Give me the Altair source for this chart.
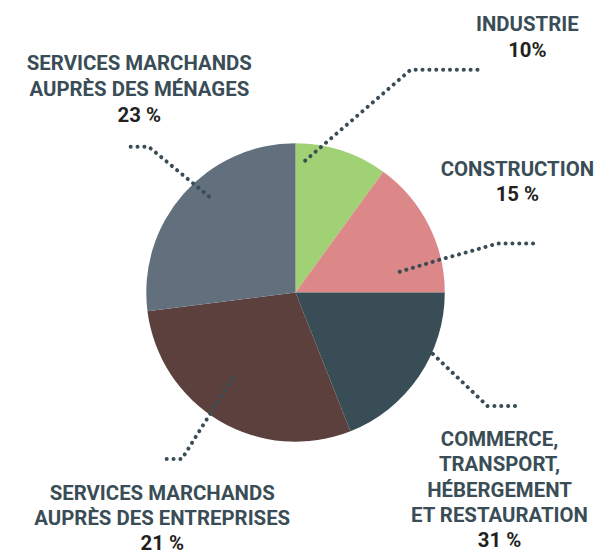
import altair as alt
import pandas as pd

# ---- data ----
secteurs = ["Industrie", "Construction", "Commerce", "Entreprises", "Ménages"]
valeurs = [10, 15, 19, 29, 27]          # slice sizes as drawn
couleurs = ["#a1d175", "#dc8788", "#384d55", "#5c403e", "#62707d"]

etiquettes = [
    ["INDUSTRIE"],
    ["CONSTRUCTION"],
    ["COMMERCE,", "TRANSPORT,", "HÉBERGEMENT", "ET RESTAURATION"],
    ["SERVICES MARCHANDS", "AUPRÈS DES ENTREPRISES"],
    ["SERVICES MARCHANDS", "AUPRÈS DES MÉNAGES"],
]
pourcentages = ["10%", "15 %", "31 %", "21 %", "23 %"]

# ---- layout (page pixels) ----
label_x = [530, 520, 502, 163, 140]
label_y0 = [30, 175, 447, 501.5, 69]
line_gap = [26, 26, 25.3, 25, 26]

leaders = [
    [(306.7, 160), (412.7, 68.7), (480, 68.7)],
    [(401.7, 271.7), (445, 258.7), (476.7, 250), (500, 243.3), (540, 243.3)],
    [(435, 354.3), (490, 406.7), (522.7, 406.7)],
    [(233.3, 379.3), (182.7, 460), (167.3, 460)],
    [(210, 196), (149.3, 146), (128.3, 146)],
]

W, H = 587, 540
M = 8
cx, cy, R = 297, 292.5, 150

pie_df = pd.DataFrame({"secteur": secteurs, "valeur": valeurs, "ordre": list(range(len(secteurs)))})

rows = []
for i, lines in enumerate(etiquettes):
    for j, t in enumerate(lines):
        rows.append({"x": label_x[i], "y": label_y0[i] + j * line_gap[i], "t": t, "k": "lab"})
    rows.append({"x": label_x[i], "y": label_y0[i] + len(lines) * line_gap[i], "t": pourcentages[i], "k": "pct"})
text_df = pd.DataFrame(rows)

lrows = []
for i, pts in enumerate(leaders):
    for j, (x, y) in enumerate(pts):
        lrows.append({"g": i, "s": j, "x": x, "y": y})
lead_df = pd.DataFrame(lrows)

xs = alt.Scale(domain=[M, M + W])
ys = alt.Scale(domain=[M + H, M])

pie = alt.Chart(pie_df).mark_arc(radius=R).encode(
    theta=alt.Theta("valeur:Q", stack=True),
    order=alt.Order("ordre:Q"),
    color=alt.Color("secteur:N", scale=alt.Scale(domain=secteurs, range=couleurs), legend=None),
    x=alt.value(cx - M),
    y=alt.value(cy - M),
)

lines = alt.Chart(lead_df).mark_line(
    strokeDash=[0.1, 6.8], strokeCap="round", strokeWidth=4, color="#3a4d56"
).encode(
    x=alt.X("x:Q", scale=xs, axis=None),
    y=alt.Y("y:Q", scale=ys, axis=None),
    detail="g:N",
    order="s:Q",
)

texts = alt.Chart(text_df).mark_text(
    font="Roboto", fontWeight="bold", fontSize=20.5, align="center", baseline="alphabetic"
).encode(
    x=alt.X("x:Q", scale=xs, axis=None),
    y=alt.Y("y:Q", scale=ys, axis=None),
    text="t:N",
    color=alt.Color("k:N", scale=alt.Scale(domain=["lab", "pct"], range=["#3a4d56", "#231f20"]), legend=None),
)

chart = alt.layer(pie, lines, texts).resolve_scale(color="independent").properties(
    width=W, height=H, padding=0
).configure_view(stroke=None)

chart.save("out.html", embed_options={"renderer": "svg", "actions": False})
